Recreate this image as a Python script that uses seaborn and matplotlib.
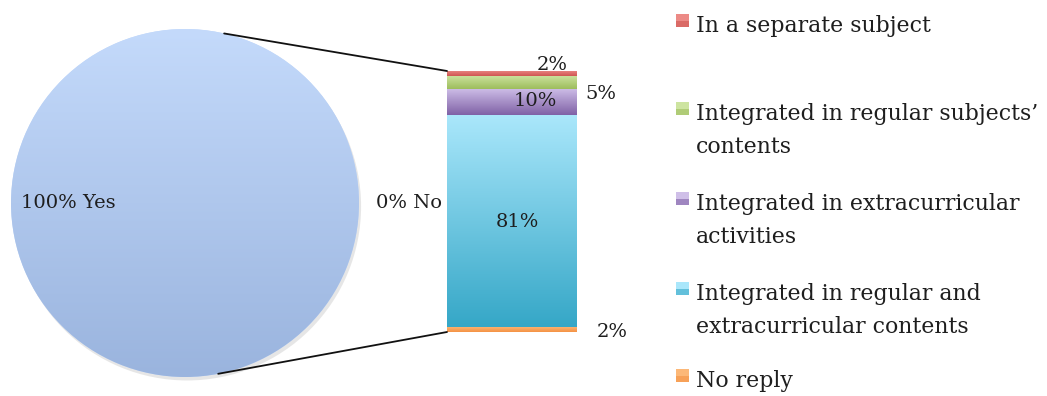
import numpy as np
import matplotlib
matplotlib.use("Agg")
import matplotlib.pyplot as plt
import matplotlib.patheffects as pe
from matplotlib.colors import LinearSegmentedColormap
from matplotlib.patches import ConnectionPatch, Rectangle
import seaborn as sns

# ---------------- data ----------------
pie_labels = ["Yes", "No"]
pie_values = [100, 0]

categories = [
    "In a separate subject",
    "Integrated in regular subjects\u2019\ncontents",
    "Integrated in extracurricular\nactivities",
    "Integrated in regular and\nextracurricular contents",
    "No reply",
]
shares = [2, 5, 10, 81, 2]          # stacked top -> bottom

# ---------------- style ----------------
sns.set_theme(style="white")
plt.rcParams["font.family"] = ["DejaVu Serif"]
TXT = "#1e1e1e"

pie_grad = ("#c4dafb", "#9ab4de")
seg_grad = [("#ec8a86", "#cf5652"),
            ("#cde4a0", "#9dbd5c"),
            ("#cfbfe8", "#7f61a6"),
            ("#aae7fb", "#35a7c7"),
            ("#fcb878", "#f59244")]
shadow = [pe.SimplePatchShadow(offset=(1.5, -2.5), shadow_rgbFace="#777777", alpha=0.18),
          pe.Normal()]

W, H = 1047, 396
fig = plt.figure(figsize=(W / 100, H / 100), dpi=100)


def px_axes(x0, y0, x1, y1):
    ax = fig.add_axes([x0 / W, 1 - y1 / H, (x1 - x0) / W, (y1 - y0) / H])
    ax.set_facecolor("none")
    return ax


grad = np.linspace(0, 1, 256).reshape(-1, 1)

# ---------------- pie ----------------
cx, cy, r = 185, 203, 174
ax_pie = px_axes(cx - r, cy - r, cx + r, cy + r)
wedges, _ = ax_pie.pie(pie_values, colors=[pie_grad[0], pie_grad[1]],
                       startangle=0, counterclock=True, radius=1,
                       wedgeprops=dict(linewidth=0))
wedges[0].set_path_effects(shadow)
im = ax_pie.imshow(grad, extent=(-1, 1, -1, 1), aspect="auto", origin="upper",
                   cmap=LinearSegmentedColormap.from_list("p", pie_grad), zorder=2)
im.set_clip_path(wedges[0])
pie_label_dist = [0.67, 1.29]
for w, lab, val, d in zip(wedges, pie_labels, pie_values, pie_label_dist):
    ang = np.deg2rad((w.theta1 + w.theta2) / 2)
    ax_pie.text(d * np.cos(ang), d * np.sin(ang), f"{val}% {lab}", ha="center",
                va="center", fontsize=14, color=TXT, zorder=5)
ax_pie.set_xlim(-1, 1)
ax_pie.set_ylim(-1, 1)
ax_pie.axis("off")

# ---------------- stacked bar ----------------
ax_bar = px_axes(447, 71, 577, 332)
total = sum(shares)
for i, (cat, val) in enumerate(zip(categories, shares)):
    top = sum(shares[i:])
    n_before = len(ax_bar.patches)
    sns.barplot(x=["s"], y=[top], color=seg_grad[i][1], width=1, errorbar=None,
                saturation=1, linewidth=0, ax=ax_bar)
    patch = ax_bar.patches[n_before]
    if i == 0:
        patch.set_path_effects(shadow)
    gi = ax_bar.imshow(grad, extent=(-0.5, 0.5, top - val, top), aspect="auto",
                       origin="upper",
                       cmap=LinearSegmentedColormap.from_list(f"s{i}", seg_grad[i]),
                       zorder=patch.get_zorder())
    gi.set_clip_path(patch)

# label placement (axes-fraction x, pixel offsets)
lab_x = [0.81, 1.18, 0.68, 0.54, 1.27]
lab_dy = [9, -11, 1, -1, -3]
for i, val in enumerate(shares):
    top = sum(shares[i:])
    mid = top - val / 2
    ax_bar.annotate(f"{val}%", xy=(lab_x[i], mid), xycoords=("axes fraction", "data"),
                    xytext=(0, lab_dy[i]), textcoords="offset pixels",
                    ha="center", va="center", fontsize=14, color=TXT, zorder=6,
                    annotation_clip=False)
ax_bar.set_xlim(-0.5, 0.5)
ax_bar.set_ylim(0, total)
ax_bar.axis("off")

# ---------------- connector lines ----------------
for ang, ybar in [(77, total), (-79, 0)]:
    a = np.deg2rad(ang)
    con = ConnectionPatch(xyA=(np.cos(a), np.sin(a)), coordsA=ax_pie.transData,
                          xyB=(-0.5, ybar), coordsB=ax_bar.transData,
                          color="#111111", lw=1.3)
    fig.add_artist(con)

# ---------------- legend ----------------
ax_leg = px_axes(0, 0, W, H)
ax_leg.set_xlim(0, W)
ax_leg.set_ylim(H, 0)
ax_leg.axis("off")
leg_first_baseline = [32, 120, 210, 300, 387]
line_step = 33
for i, (cat, y) in enumerate(zip(categories, leg_first_baseline)):
    ax_leg.add_patch(Rectangle((676, y - 18), 13, 13, facecolor=seg_grad[i][0],
                               edgecolor="none"))
    ax_leg.add_patch(Rectangle((676, y - 11.5), 13, 6.5, facecolor=seg_grad[i][1],
                               edgecolor="none", alpha=0.6))
    for k, line in enumerate(cat.split("\n")):
        ax_leg.text(696, y + k * line_step, line, ha="left", va="baseline",
                    fontsize=15.8, color=TXT)

fig.savefig("out.png", dpi=100)
